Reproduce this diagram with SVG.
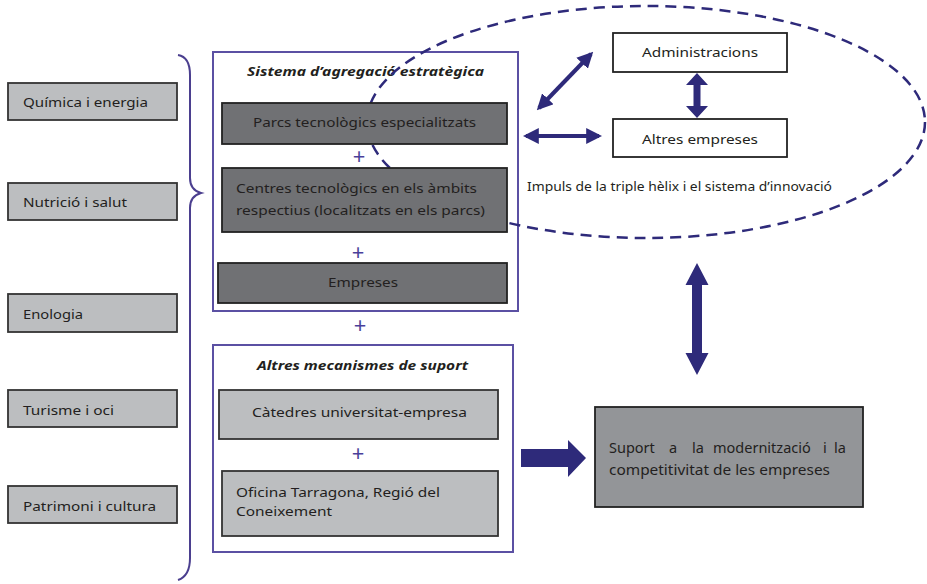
<svg xmlns="http://www.w3.org/2000/svg" width="927" height="584" viewBox="0 0 927 584">
<style>
text{font-family:"Noto Sans","Open Sans",sans-serif;font-size:13px;fill:#231f20}
.sector{fill:#bcbec0;stroke:#333;stroke-width:1.8}
.dark{fill:#707174;stroke:#222;stroke-width:1.8}
.light{fill:#bcbec0;stroke:#333;stroke-width:1.8}
.white{fill:#fff;stroke:#222;stroke-width:1.8}
.frame{fill:none;stroke:#5b50a3;stroke-width:2}
.title{font-weight:bold;font-style:italic}
.plus{fill:#4a3f9a;font-size:22px;text-anchor:middle}
.arrow{fill:#2e2a7a}
.line{stroke:#2e2a7a;stroke-width:4;fill:none}
.big{font-size:14.5px}
</style>
<defs>
<marker id="ah" viewBox="0 0 10 10" refX="8" refY="5" markerWidth="4" markerHeight="4" orient="auto-start-reverse" markerUnits="strokeWidth">
<path d="M0,0 L10,5 L0,10 z" fill="#2e2a7a"/>
</marker>
</defs>
<rect width="927" height="584" fill="#fff"/>

<g id="brace"><path d="M178,55 Q190,57 190,75 L190,178 Q190,190 201,193 Q190,196 190,208 L190,558 Q190,576 178,580" fill="none" stroke="#4b3f8f" stroke-width="2"/></g>

<g id="quimica"><rect class="sector" x="8" y="83" width="169" height="37"/><text x="23" y="107" textLength="125" lengthAdjust="spacingAndGlyphs">Química i energia</text></g>
<g id="nutricio"><rect class="sector" x="8" y="183" width="169" height="37"/><text x="23" y="207" textLength="104" lengthAdjust="spacingAndGlyphs">Nutrició i salut</text></g>
<g id="enologia"><rect class="sector" x="8" y="294" width="169" height="38"/><text x="23" y="319" textLength="60" lengthAdjust="spacingAndGlyphs">Enologia</text></g>
<g id="turisme"><rect class="sector" x="8" y="390" width="169" height="37"/><text x="23" y="415" textLength="91" lengthAdjust="spacingAndGlyphs">Turisme i oci</text></g>
<g id="patrimoni"><rect class="sector" x="8" y="486" width="169" height="37"/><text x="23" y="511" textLength="133" lengthAdjust="spacingAndGlyphs">Patrimoni i cultura</text></g>

<g id="sistema"><rect class="frame" x="213" y="52" width="305" height="259"/><text class="title" x="247" y="76" textLength="237" lengthAdjust="spacingAndGlyphs">Sistema d’agregació estratègica</text></g>

<g id="helix-ellipse"><ellipse cx="646" cy="122" rx="279" ry="116" fill="none" stroke="#2e2a7a" stroke-width="2.5" stroke-dasharray="11 7"/></g>

<g id="parcs"><rect class="dark" x="222" y="103" width="285" height="41"/><text x="253" y="127" textLength="223" lengthAdjust="spacingAndGlyphs">Parcs tecnològics especialitzats</text></g>
<text class="plus" x="359" y="164">+</text>
<g id="centres"><rect class="dark" x="222" y="168" width="285" height="64"/><text x="236" y="193" textLength="241" lengthAdjust="spacingAndGlyphs">Centres tecnològics en els àmbits</text><text x="236" y="215" textLength="249" lengthAdjust="spacingAndGlyphs">respectius (localitzats en els parcs)</text></g>
<text class="plus" x="358" y="260">+</text>
<g id="empreses"><rect class="dark" x="218" y="263" width="289" height="40"/><text x="328" y="287" textLength="70" lengthAdjust="spacingAndGlyphs">Empreses</text></g>

<text class="plus" x="360" y="333">+</text>

<g id="altres-mecanismes"><rect class="frame" x="213" y="345" width="300" height="207"/><text class="title" x="257" y="370" textLength="211" lengthAdjust="spacingAndGlyphs">Altres mecanismes de suport</text></g>
<g id="catedres"><rect class="light" x="219" y="390" width="279" height="49"/><text x="252" y="417" textLength="215" lengthAdjust="spacingAndGlyphs">Càtedres universitat-empresa</text></g>
<text class="plus" x="358" y="461">+</text>
<g id="oficina"><rect class="light" x="222" y="471" width="276" height="65"/><text x="236" y="497" textLength="204" lengthAdjust="spacingAndGlyphs">Oficina Tarragona, Regió del</text><text x="236" y="516" textLength="96" lengthAdjust="spacingAndGlyphs">Coneixement</text></g>

<g id="administracions"><rect class="white" x="613" y="33" width="174" height="39"/><text x="642" y="57" textLength="116" lengthAdjust="spacingAndGlyphs">Administracions</text></g>
<g id="altres-empreses"><rect class="white" x="613" y="119" width="174" height="38"/><text x="642" y="144" textLength="116" lengthAdjust="spacingAndGlyphs">Altres empreses</text></g>
<g id="impuls"><text x="527" y="191" textLength="305" lengthAdjust="spacingAndGlyphs">Impuls de la triple hèlix i el sistema d’innovació</text></g>

<g id="suport"><rect fill="#939598" stroke="#222" stroke-width="1.8" x="595" y="407" width="268" height="100"/><text class="big" y="453"><tspan x="609">Suport</tspan><tspan x="669">a</tspan><tspan x="692">la</tspan><tspan x="713">modernització</tspan><tspan x="823">i</tspan><tspan x="834">la</tspan></text><text class="big" x="609" y="475" textLength="221" lengthAdjust="spacingAndGlyphs">competitivitat de les empreses</text></g>

<g id="connectors">
<line class="line" x1="539" y1="108" x2="591" y2="54" marker-start="url(#ah)" marker-end="url(#ah)"/>
<line class="line" x1="526" y1="136" x2="599" y2="136" marker-start="url(#ah)" marker-end="url(#ah)"/>
<polygon class="arrow" points="697,73 708,85 700.5,85 700.5,106 708,106 697,118 686,106 693.5,106 693.5,85 686,85"/>
<polygon class="arrow" points="697,263 708.5,285 702,285 702,353 708.5,353 697,375 685.5,353 692,353 692,285 685.5,285"/>
<polygon class="arrow" points="521,449 568,449 568,440 586,458 568,477 568,467 521,467"/>
</g>
</svg>
